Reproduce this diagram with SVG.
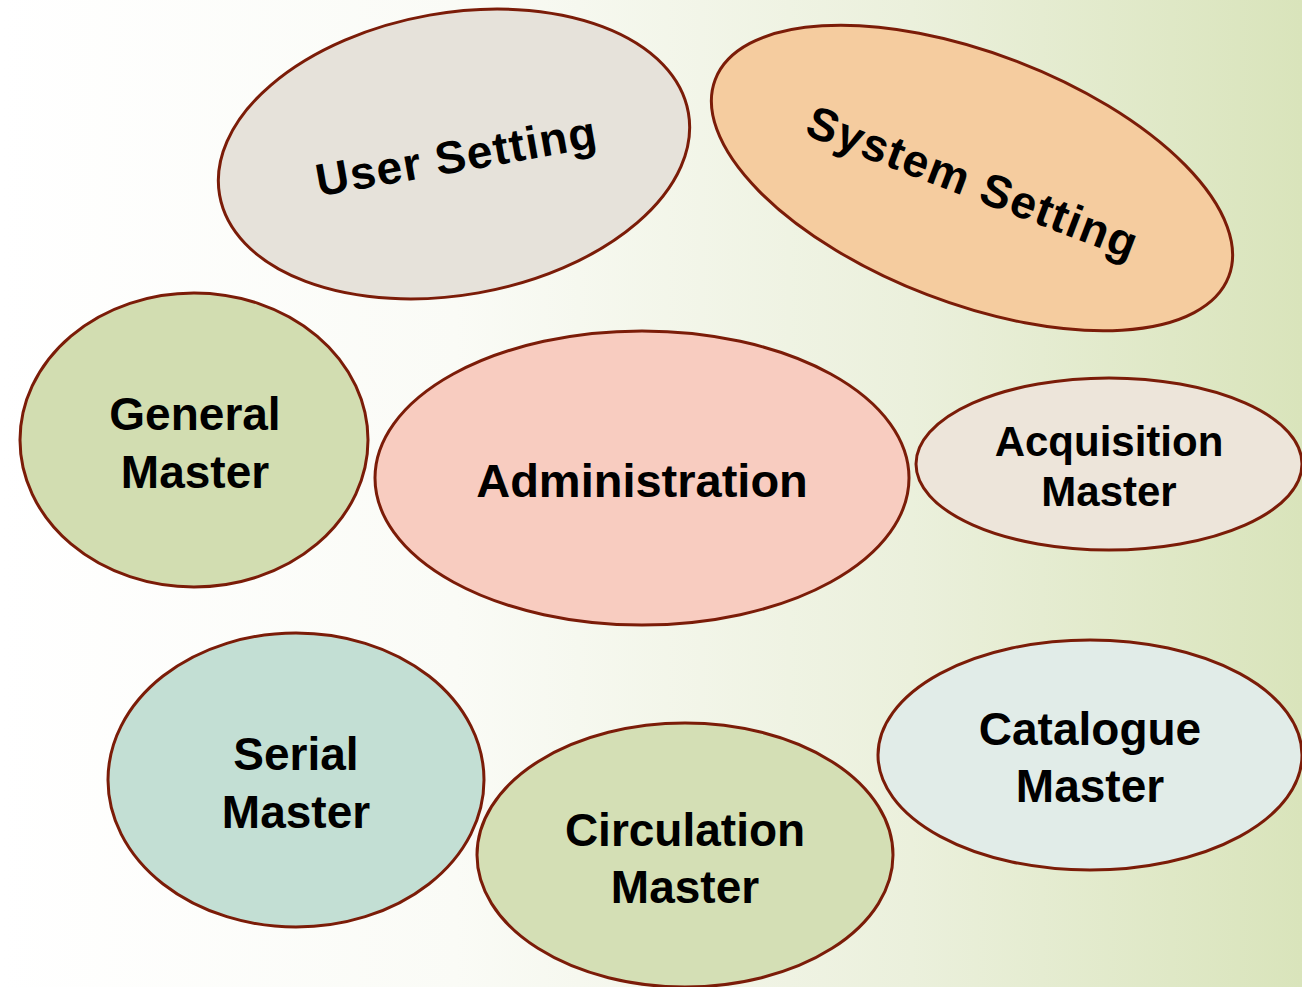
<svg xmlns="http://www.w3.org/2000/svg" width="1302" height="987" viewBox="0 0 1302 987">
<defs>
<linearGradient id="bg" x1="0" y1="0" x2="1" y2="0">
<stop offset="0" stop-color="#ffffff"/>
<stop offset="0.35" stop-color="#fafbf6"/>
<stop offset="0.7" stop-color="#ebf0dc"/>
<stop offset="1" stop-color="#d9e4bb"/>
</linearGradient>
<style>
.n{stroke:#7b1c08;stroke-width:3}
.t{font-family:"Liberation Sans",Arial,sans-serif;font-weight:bold;fill:#000;text-anchor:middle}
</style>
</defs>
<rect width="1302" height="987" fill="url(#bg)"/>
<g id="connectors"/>
<g id="user-setting">
<ellipse class="n" cx="454" cy="154" rx="238" ry="141" transform="rotate(-10 454 154)" fill="#e6e2da"/>
<text class="t" x="456" y="172" font-size="46" transform="rotate(-10 456 157)" textLength="284" lengthAdjust="spacing">User Setting</text>
</g>
<g id="system-setting">
<ellipse class="n" cx="972" cy="178" rx="275" ry="125" transform="rotate(21 972 178)" fill="#f5cc9f"/>
<text class="t" x="972" y="198" font-size="46" transform="rotate(21 972 183)" textLength="350" lengthAdjust="spacing">System Setting</text>
</g>
<g id="general-master">
<ellipse class="n" cx="194" cy="440" rx="174" ry="147" fill="#d2ddb1"/>
<text class="t" x="195" y="430" font-size="46">General</text>
<text class="t" x="195" y="488" font-size="46">Master</text>
</g>
<g id="administration">
<ellipse class="n" cx="642" cy="478" rx="267" ry="147" fill="#f8ccc0"/>
<text class="t" x="642" y="497" font-size="47">Administration</text>
</g>
<g id="acquisition-master">
<ellipse class="n" cx="1109" cy="464" rx="193" ry="86" fill="#ede5da"/>
<text class="t" x="1109" y="456" font-size="42">Acquisition</text>
<text class="t" x="1109" y="506" font-size="42">Master</text>
</g>
<g id="serial-master">
<ellipse class="n" cx="296" cy="780" rx="188" ry="147" fill="#c3dfd4"/>
<text class="t" x="296" y="770" font-size="46">Serial</text>
<text class="t" x="296" y="828" font-size="46">Master</text>
</g>
<g id="circulation-master">
<ellipse class="n" cx="685" cy="855" rx="208" ry="132" fill="#d4dfb5"/>
<text class="t" x="685" y="846" font-size="46">Circulation</text>
<text class="t" x="685" y="903" font-size="46">Master</text>
</g>
<g id="catalogue-master">
<ellipse class="n" cx="1090" cy="755" rx="212" ry="115" fill="#e1ece8"/>
<text class="t" x="1090" y="745" font-size="46">Catalogue</text>
<text class="t" x="1090" y="802" font-size="46">Master</text>
</g>
</svg>
